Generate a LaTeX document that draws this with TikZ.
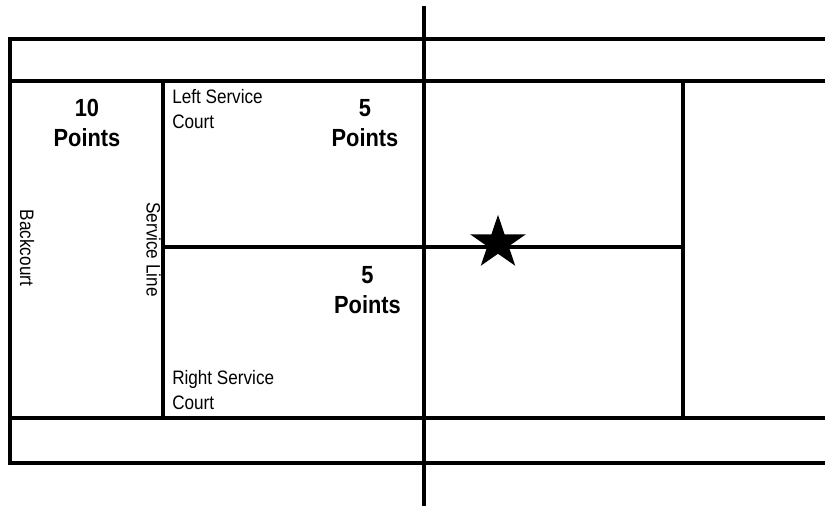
\documentclass[tikz,border=0pt]{standalone}
\usepackage{fontspec}
\setmainfont{Liberation Sans}
\newfontfamily\narrowfont[FakeStretch=0.88]{Liberation Sans}
\usetikzlibrary{shapes.geometric}
\tikzset{
 court/.style={line width=2.9pt,black,line cap=rect},
 lbl/.style={font=\narrowfont\fontsize{14.6}{18.6}\selectfont,align=left,inner sep=0pt,anchor=north west},
 pts/.style={font=\narrowfont\fontsize{18.6}{22.5}\selectfont\bfseries,align=center,inner sep=0pt},
 rot/.style={font=\narrowfont\fontsize{14.6}{18.6}\selectfont,rotate=-90,inner sep=0pt}
}
\begin{document}
\begin{tikzpicture}[x=0.75pt,y=-0.75pt]
\useasboundingbox (0,0) rectangle (825,506);
\coordinate (netT) at (424,8);
\coordinate (netB) at (424,506);
\coordinate (tl) at (10,39);
\coordinate (tr) at (825,39);
\coordinate (bl) at (10,463);
\coordinate (br) at (825,463);
\coordinate (sl1) at (10,81);
\coordinate (sr1) at (825,81);
\coordinate (sl2) at (10,418);
\coordinate (sr2) at (825,418);
\coordinate (svT) at (163,81);
\coordinate (svB) at (163,418);
\coordinate (srT) at (683,81);
\coordinate (srB) at (683,418);
\coordinate (cl) at (163,247);
\coordinate (cr) at (683,247);
\draw[court] (tr) -- (tl) -- (bl) -- (br);
\draw[court] (sl1) -- (sr1);
\draw[court] (sl2) -- (sr2);
\draw[court] (svT) -- (svB);
\draw[court] (srT) -- (srB);
\draw[court] (cl) -- (cr);
\draw[court] (netT) -- (netB);
\node[star,star points=5,star point ratio=2.618,fill=black,inner sep=0pt,minimum size=44pt,yscale=0.96] (star) at (498,243) {};
\node[pts] (p10) at (87,123) {10\\Points};
\node[pts] (p5a) at (365,123) {5\\Points};
\node[pts] (p5b) at (367.5,290) {5\\Points};
\node[lbl] (ls) at (172,89) {Left Service\\Court};
\node[lbl] (rs) at (172,370) {Right Service\\Court};
\node[rot] (bc) at (27,248) {Backcourt};
\node[rot] (sl) at (153.5,249.5) {Service Line};
\end{tikzpicture}
\end{document}
